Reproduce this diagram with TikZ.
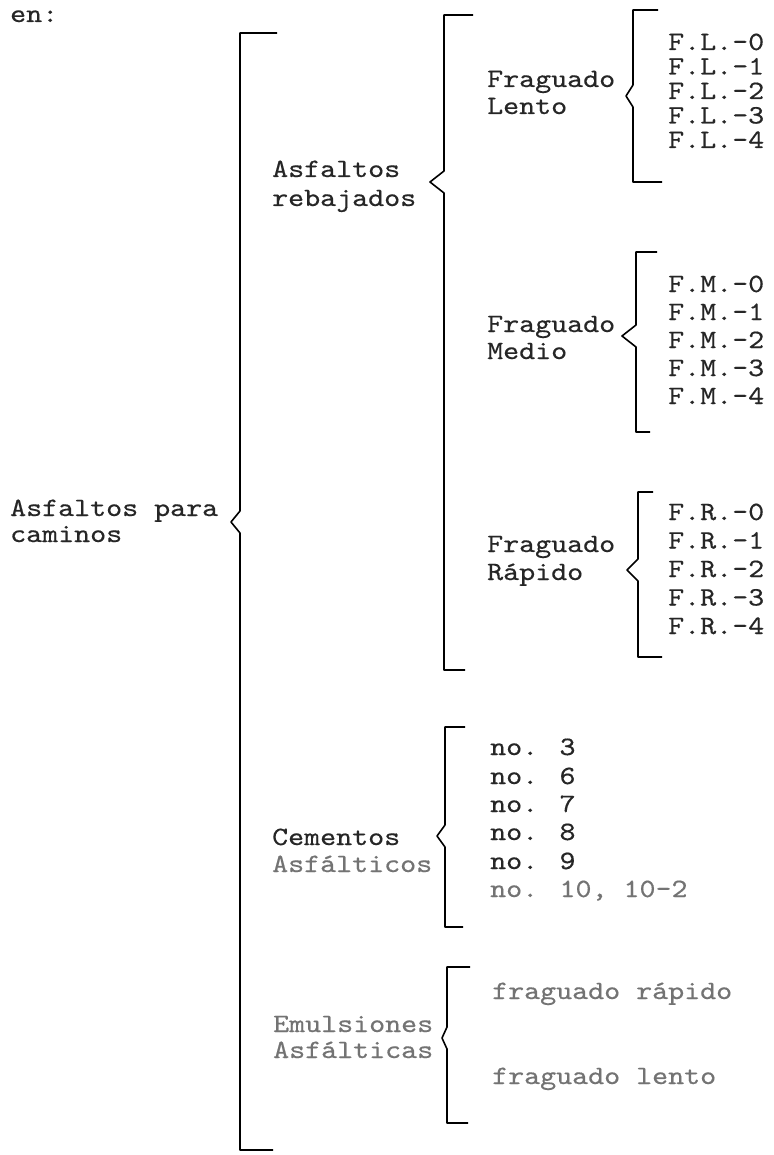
\documentclass[tikz,border=0pt]{standalone}
\usepackage{fontspec}
\newfontfamily\tw[FakeStretch=1.15,FakeBold=0.4]{lmmono10-regular.otf}
\newcommand{\mybrack}[8]{%
  \coordinate (#1-tt) at (#4,#3);
  \coordinate (#1-tc) at (#2,#3);
  \coordinate (#1-ma) at (#2,#7-11);
  \coordinate (#1-tip) at (#8,#7);
  \coordinate (#1-mb) at (#2,#7+11);
  \coordinate (#1-bc) at (#2,#5);
  \coordinate (#1-bt) at (#6,#5);
  \draw[br] (#1-tt) -- (#1-tc) -- (#1-ma) -- (#1-tip) -- (#1-mb) -- (#1-bc) -- (#1-bt);
}
\begin{document}
\begin{tikzpicture}[x=1pt,y=-1pt,
  txt/.style={anchor=base west, inner sep=0pt, font=\tw\fontsize{26.5}{28}\selectfont, text=black!85},
  faded/.style={txt, text=black!55},
  br/.style={line width=1.6pt, line join=round, black}]
\useasboundingbox (0,0) rectangle (773,1155);
\fill[white] (0,0) rectangle (773,1155);

% texts
\node[txt] (en) at (10,22) {en:};
\node[txt] (root1) at (10,516) {Asfaltos para};
\node[txt] (root2) at (10,542) {caminos};

\node[txt] (ar1) at (272,177) {Asfaltos};
\node[txt] (ar2) at (272,206) {rebajados};

\node[txt] (fl1) at (487,87) {Fraguado};
\node[txt] (fl2) at (487,114) {Lento};
\foreach \i in {0,...,4}
  \node[txt] (fl-\i) at (668,{50+24.5*\i}) {F.L.-\i};

\node[txt] (fm1) at (487,332) {Fraguado};
\node[txt] (fm2) at (487,359) {Medio};
\foreach \i in {0,...,4}
  \node[txt] (fm-\i) at (668,{292+28*\i}) {F.M.-\i};

\node[txt] (fr1) at (487,552) {Fraguado};
\node[txt] (fr2) at (487,580) {Rápido};
\foreach \i in {0,...,4}
  \node[txt] (fr-\i) at (668,{520+28.5*\i}) {F.R.-\i};

\node[txt] (ca1) at (272,845) {Cementos};
\node[faded] (ca2) at (272,872) {Asfálticos};
\node[txt] (c3) at (490,755) {no. 3};
\node[txt] (c6) at (490,784) {no. 6};
\node[txt] (c7) at (490,812) {no. 7};
\node[txt] (c8) at (490,840) {no. 8};
\node[txt] (c9) at (490,869) {no. 9};
\node[faded] (c10) at (490,897) {no. 10, 10-2};

\node[faded] (em1) at (273,1032) {Emulsiones};
\node[faded] (em2) at (273,1058) {Asfálticas};
\node[faded] (er) at (492,999) {fraguado rápido};
\node[faded] (el) at (492,1084) {fraguado lento};

% brackets: name, x, top, toptick, bottom, bottomtick, mid, tip
\mybrack{main}{240}{33}{277}{1150}{273}{522}{231}
\mybrack{reb}{444}{15}{473}{670}{465}{182}{430}
\mybrack{lento}{633}{10}{658}{182}{662}{96}{626}
\mybrack{medio}{636}{252}{657}{432}{650}{336}{622}
\mybrack{rapido}{638}{492}{653}{657}{662}{570}{627}
\mybrack{cem}{445}{727}{465}{927}{463}{836}{437}
\mybrack{emu}{447}{967}{470}{1123}{468}{1038}{442}
\end{tikzpicture}
\end{document}
